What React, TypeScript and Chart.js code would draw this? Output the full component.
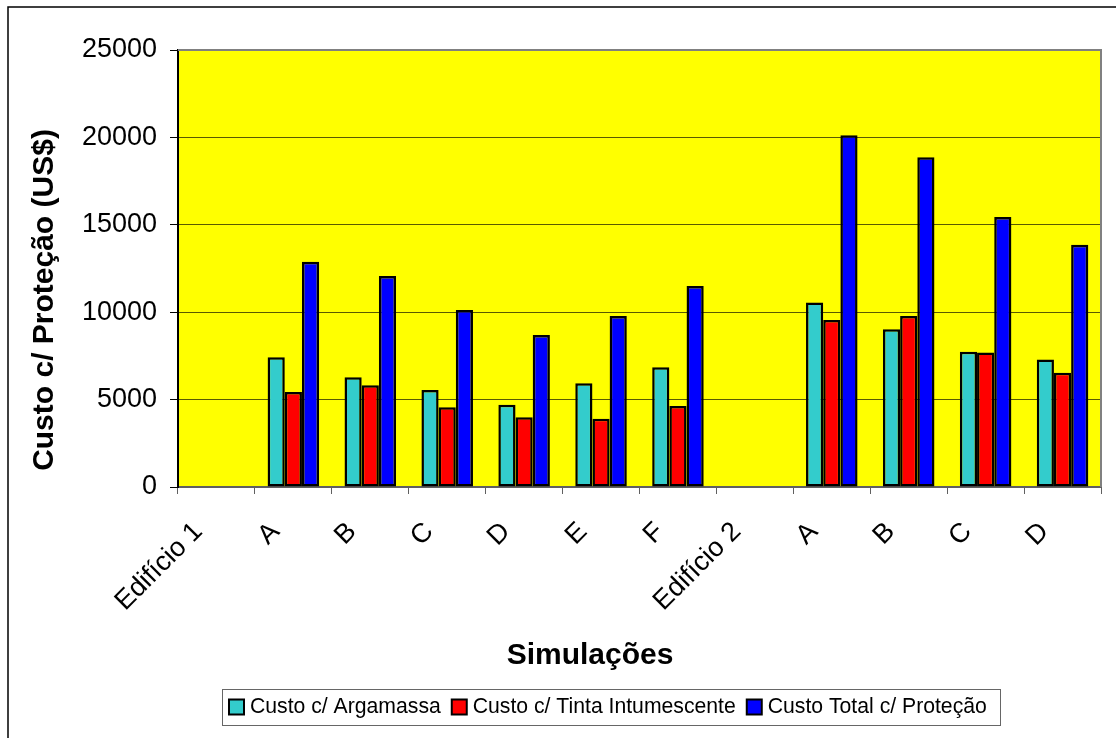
import React, { useEffect, useRef } from "react";
import { Chart, registerables } from "chart.js";

Chart.register(...registerables);

const categories = ["Edifício 1", "A", "B", "C", "D", "E", "F", "Edifício 2", "A", "B", "C", "D"];
const custoArgamassa = [null, 7420, 6280, 5550, 4710, 5930, 6850, null, 10550, 9020, 7740, 7300];
const custoTinta = [null, 5430, 5820, 4560, 3990, 3910, 4630, null, 9550, 9780, 7700, 6540];
const custoTotal = [null, 12890, 12070, 10130, 8700, 9780, 11500, null, 20120, 18860, 15450, 13860];
const seriesNames = ["Custo c/ Argamassa", "Custo c/ Tinta Intumescente", "Custo Total c/ Proteção"];
const seriesColors = ["#33CCCC", "#FF0000", "#0000FF"];
const yTitle = "Custo c/ Proteção (US$)";
const xTitle = "Simulações";

const FONT = "'Liberation Sans', Arial, sans-serif";

const decor = {
  id: "decor",
  beforeDraw(chart: any) {
    const { ctx, chartArea: a } = chart;
    ctx.save();
    ctx.fillStyle = "#ffffff";
    ctx.fillRect(0, 0, chart.width, chart.height);
    ctx.fillStyle = "#FFFF00";
    ctx.fillRect(a.left, a.top, a.right - a.left, a.bottom - a.top);
    ctx.restore();
  },
  afterDraw(chart: any) {
    const { ctx, chartArea: a } = chart;
    ctx.save();
    ctx.strokeStyle = "#808080";
    ctx.lineWidth = 2;
    ctx.beginPath();
    ctx.moveTo(a.left, a.top);
    ctx.lineTo(a.right, a.top);
    ctx.lineTo(a.right, a.bottom);
    ctx.stroke();
    ctx.strokeStyle = "#000000";
    ctx.lineWidth = 1.5;
    ctx.strokeRect(8, 7, 1130, 760);
    ctx.fillStyle = "#000";
    ctx.font = `bold 30px ${FONT}`;
    ctx.textAlign = "center";
    ctx.textBaseline = "middle";
    ctx.fillText(xTitle, 590, 656);
    ctx.save();
    ctx.translate(45, 300);
    ctx.rotate(-Math.PI / 2);
    ctx.fillText(yTitle, 0, 0);
    ctx.restore();
    ctx.strokeStyle = "#666666";
    ctx.lineWidth = 1;
    ctx.strokeRect(222.5, 689.5, 778, 36);
    ctx.font = `21.2px ${FONT}`;
    ctx.textAlign = "left";
    ctx.textBaseline = "middle";
    let x = 229;
    const cy = 707;
    chart.data.datasets.forEach((ds: any) => {
      ctx.fillStyle = ds.backgroundColor;
      ctx.fillRect(x, cy - 7.5, 15, 15);
      ctx.strokeStyle = "#000";
      ctx.lineWidth = 2;
      ctx.strokeRect(x, cy - 7.5, 15, 15);
      ctx.fillStyle = "#000";
      ctx.fillText(ds.label, x + 21, cy);
      x += 21 + ctx.measureText(ds.label).width + 11;
    });
    ctx.restore();
  },
};

export default function App() {
  const ref = useRef<HTMLCanvasElement>(null);
  useEffect(() => {
    if (!ref.current) return;
    const mk = (i: number, data: (number | null)[]) => ({
      label: seriesNames[i],
      data,
      backgroundColor: seriesColors[i],
      borderColor: "#000000",
      borderWidth: 2.5,
      borderSkipped: false,
      barPercentage: 1.0,
      categoryPercentage: 0.67,
    });
    const chart = new Chart(ref.current, {
      type: "bar",
      data: {
        labels: categories,
        datasets: [mk(0, custoArgamassa), mk(1, custoTinta), mk(2, custoTotal)],
      },
      options: {
        animation: false,
        responsive: false,
        layout: { padding: { top: 50, right: 15, left: 0, bottom: 0 } },
        plugins: { legend: { display: false }, tooltip: { enabled: false }, title: { display: false } },
        scales: {
          x: {
            afterFit: (s: any) => {
              s.height = 251;
            },
            grid: {
              display: true,
              drawOnChartArea: false,
              drawTicks: true,
              offset: true,
              tickLength: 7,
              color: "#606060",
              lineWidth: 1,
            },
            border: { display: true, color: "#606060", width: 2 },
            ticks: {
              autoSkip: false,
              maxRotation: 45,
              minRotation: 45,
              padding: 22,
              labelOffset: -18,
              color: "#000",
              font: { family: FONT, size: 27 },
            },
          },
          y: {
            min: 0,
            max: 25000,
            afterFit: (s: any) => {
              s.width = 178;
            },
            grid: {
              color: "rgba(0,0,0,0.65)",
              lineWidth: 1,
              drawTicks: true,
              tickLength: 8,
              tickColor: "#000",
            },
            border: { display: true, color: "#000", width: 2 },
            ticks: {
              stepSize: 5000,
              padding: 13,
              color: "#000",
              font: { family: FONT, size: 27 },
              callback: (v: any) => String(v),
            },
          },
        },
      },
      plugins: [decor],
    });
    return () => chart.destroy();
  }, []);
  return (
    <div style={{ position: "absolute", left: 0, top: 0, width: 1116, height: 738 }}>
      <canvas ref={ref} width={1116} height={738} style={{ width: 1116, height: 738 }} />
    </div>
  );
}
